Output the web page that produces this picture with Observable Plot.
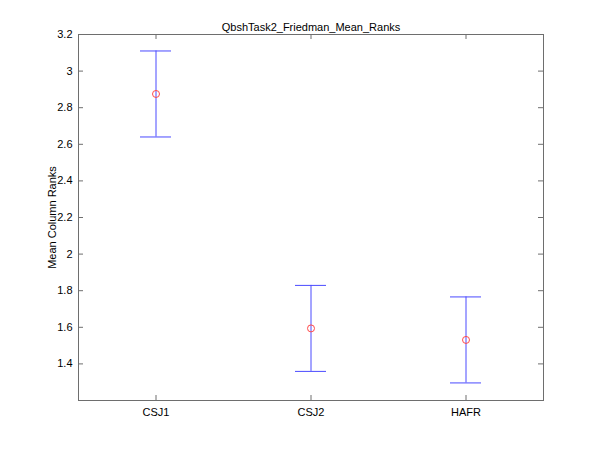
<!DOCTYPE html>
<html><head><meta charset="utf-8">
<script src="https://cdn.jsdelivr.net/npm/d3@7"></script>
<script src="https://cdn.jsdelivr.net/npm/@observablehq/plot@0.6"></script>
<style>body{margin:0;background:#fff}</style>
</head><body><div id="chart"></div>
<script>
const title = "QbshTask2_Friedman_Mean_Ranks";
const yLabel = "Mean Column Ranks";
const groups = ["CSJ1", "CSJ2", "HAFR"];
const meanRanks = [2.875, 1.594, 1.531];
const lower = [2.640, 1.359, 1.296];
const upper = [3.110, 1.829, 1.766];
const yTicks = [1.4, 1.6, 1.8, 2, 2.2, 2.4, 2.6, 2.8, 3, 3.2];
const xTicks = [1, 2, 3];

const data = groups.map((g, i) => ({pos: i + 1, name: g, mean: meanRanks[i], lo: lower[i], hi: upper[i]}));
const W = 600, H = 450, ml = 78, mr = 57, mt = 34, mb = 50;
const pw = W - ml - mr, ph = H - mt - mb;
const tk = 5;
const axisColor = "#6e6e6e";
const blue = "#4a4aff", red = "#ff4a4a";
const capHalf = 0.1;

const plot = Plot.plot({
  width: W, height: H,
  marginLeft: ml, marginRight: mr, marginTop: mt, marginBottom: mb,
  style: {fontFamily: "'Liberation Sans', Arial, sans-serif", fontSize: "11px", background: "white", color: "#000"},
  x: {domain: [0.5, 3.5]},
  y: {domain: [1.2, 3.2]},
  marks: [
    Plot.axisX({ticks: xTicks, tickSize: 0, tickPadding: 8, tickFormat: d => groups[d - 1], label: null}),
    Plot.axisY({ticks: yTicks, tickSize: 0, tickPadding: 6, tickFormat: d => String(+d.toFixed(1)), label: null}),
    Plot.tickY(yTicks, {y: d => d, insetRight: pw - tk, stroke: axisColor}),
    Plot.tickY(yTicks, {y: d => d, insetLeft: pw - tk, stroke: axisColor}),
    Plot.tickX(xTicks, {x: d => d, insetTop: ph - tk, stroke: axisColor}),
    Plot.tickX(xTicks, {x: d => d, insetBottom: ph - tk, stroke: axisColor}),
    Plot.frame({stroke: axisColor}),
    Plot.ruleX(data, {x: "pos", y1: "lo", y2: "hi", stroke: blue}),
    Plot.ruleY(data, {y: "hi", x1: d => d.pos - capHalf, x2: d => d.pos + capHalf, stroke: blue}),
    Plot.ruleY(data, {y: "lo", x1: d => d.pos - capHalf, x2: d => d.pos + capHalf, stroke: blue}),
    Plot.dot(data, {x: "pos", y: "mean", r: 3.5, stroke: red, strokeWidth: 1, fill: "none"}),
    Plot.text([title], {frameAnchor: "top", dy: -11, text: d => d, fontSize: 11}),
    Plot.text([yLabel], {frameAnchor: "left", textAnchor: "middle", rotate: -90, dx: -26, text: d => d, fontSize: 11})
  ]
});
document.getElementById("chart").append(plot);
</script>
</body></html>
